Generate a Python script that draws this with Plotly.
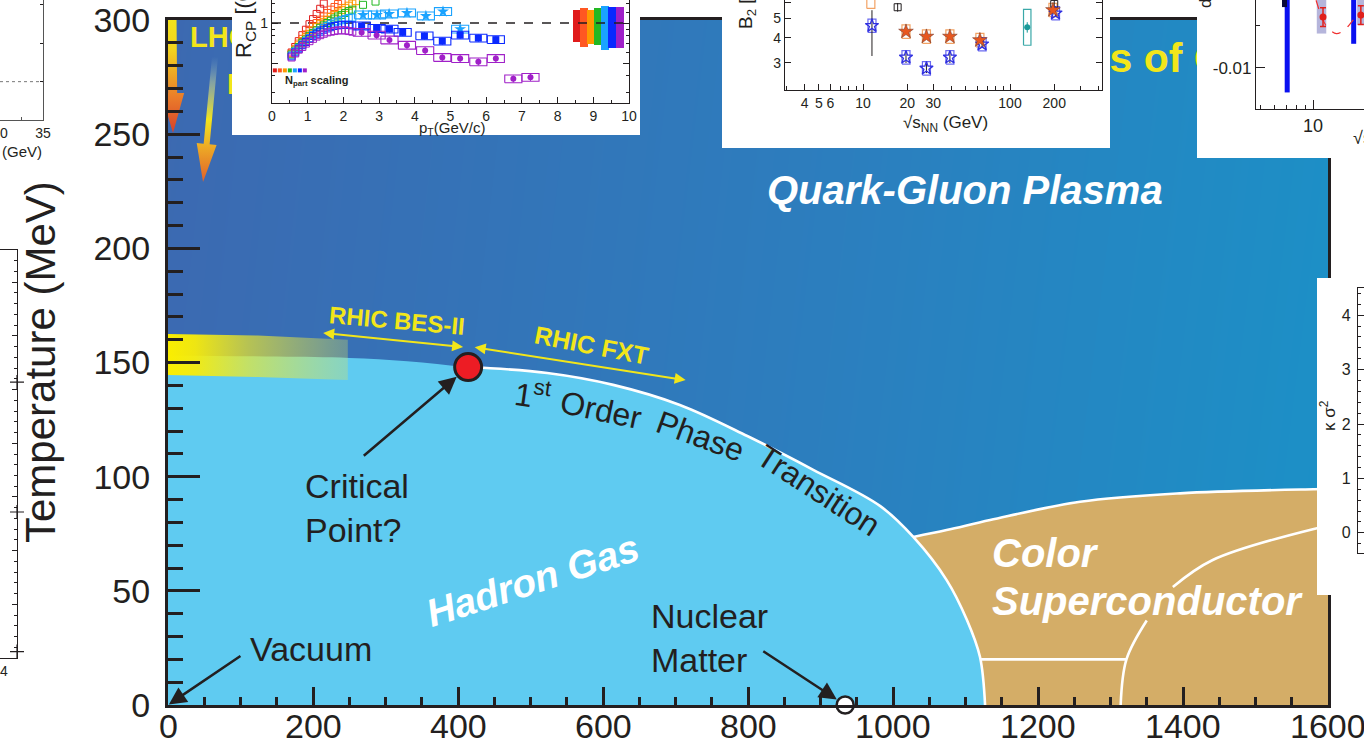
import math
import plotly.graph_objects as go

W, H = 1364, 750
INK = '#231f20'
FONT = 'Liberation Sans, Arial, Helvetica, sans-serif'
YELLOW = '#f2e61a'


def fx(px):
    return px / W


def fy(py):
    return 1 - py / H


# ---------------- QCD phase diagram ----------------
MU_RANGE = [0, 1600]
T_RANGE = [0, 300]
MU_TICKS = [0, 200, 400, 600, 800, 1000, 1200, 1400, 1600]
QGP_Z = [[0.06, 1.0], [0.0, 0.93]]
QGP_SCALE = [[0, '#3c69b1'], [0.55, '#2c7ebe'], [1, '#1b91c7']]

CROSSOVER_MU = [0, 150, 250, 330, 414]
CROSSOVER_T = [153, 152.6, 152, 150.6, 148]
FIRST_ORDER_MU = [414, 523, 614, 706, 799, 890, 982, 1028, 1074, 1102, 1120, 1127]
FIRST_ORDER_T = [148, 145.4, 140.2, 131.4, 117.8, 103, 87.2, 73.6, 54.7, 37.2, 21, 0]
CSC_MU = [1028, 1074, 1134, 1258, 1396, 1580, 1600]
CSC_T = [73.6, 76.6, 81, 89, 92.7, 94.5, 94.6]
CSC_STEP_MU = [1121, 1322]
CSC_STEP_T = [20, 20]
CSC_ARC_LOW_MU = [1314, 1322, 1350]
CSC_ARC_LOW_T = [0, 20, 37]
CSC_ARC_HIGH_MU = [1386, 1441, 1579, 1600]
CSC_ARC_HIGH_T = [51.7, 63.5, 77, 78.3]

CRITICAL_POINT = (414, 148)
NUCLEAR_MATTER = (934, 0)

BAND_MU = [0, 124, 248]
BAND_TOP = [162.5, 161.8, 160]
BAND_BOT = [144.5, 143.6, 142.3]

# beam trajectories (tail, tip) in (muB, T)
LHC_ARROW = ((5.5, 303), (6.9, 250.5))
RHIC_ARROW = ((64.8, 283.8), (48.3, 229.1))

# annotation arrows (tail -> tip)
CRIT_TAIL = (268, 108.6)
VAC_TAIL = (102, 21.9)
NUC_TAIL = (819, 24)
BES_SPAN = ((212, 163), (407, 156.8))
FXT_SPAN = ((421, 156.8), (714, 142.3))

# screen scale of the main axes (px per unit), used for isotropic arrow widths
SX = (1328 - 168) / 1600
SY = (705 - 20) / 300


def arrow_outline(tail, tip, shaft_w, head_w, head_len):
    x0, y0 = tail[0] * SX, tail[1] * SY
    x1, y1 = tip[0] * SX, tip[1] * SY
    dx, dy = x1 - x0, y1 - y0
    L = math.hypot(dx, dy)
    ux, uy = dx / L, dy / L
    nx, ny = -uy, ux
    bx, by = x1 - ux * head_len, y1 - uy * head_len
    s, h = shaft_w / 2, head_w / 2
    pts = [(x0 + nx * s, y0 + ny * s), (bx + nx * s, by + ny * s),
           (bx + nx * h, by + ny * h), (x1, y1),
           (bx - nx * h, by - ny * h), (bx - nx * s, by - ny * s),
           (x0 - nx * s, y0 - ny * s), (x0 + nx * s, y0 + ny * s)]
    return [p[0] / SX for p in pts], [p[1] / SY for p in pts]


fig = go.Figure()
NOHOVER = dict(hoverinfo='skip', showlegend=False)

fig.add_trace(go.Heatmap(x=MU_RANGE, y=T_RANGE, z=QGP_Z, colorscale=QGP_SCALE,
                         zsmooth='best', showscale=False, hoverinfo='skip'))

# colour superconductor
tan_x = [1000] + CSC_MU + [1800, 1800, 1000]
tan_y = [CSC_T[0]] + CSC_T + [CSC_T[-1], -100, -100]
fig.add_trace(go.Scatter(x=tan_x, y=tan_y, fill='toself', fillcolor='#d4ad67',
                         mode='lines', line=dict(width=0, shape='spline'), **NOHOVER))

# hadron gas
had_x = [-200] + CROSSOVER_MU + FIRST_ORDER_MU[1:] + [FIRST_ORDER_MU[-1], -200]
had_y = [CROSSOVER_T[0]] + CROSSOVER_T + FIRST_ORDER_T[1:] + [-100, -100]
fig.add_trace(go.Scatter(x=had_x, y=had_y, fill='toself', fillcolor='#5fcbf1',
                         mode='lines', line=dict(width=0, shape='spline'), **NOHOVER))

# white phase boundaries
for xs, ys in [(FIRST_ORDER_MU, FIRST_ORDER_T), (CSC_MU, CSC_T), (CSC_STEP_MU, CSC_STEP_T),
               (CSC_ARC_LOW_MU, CSC_ARC_LOW_T), (CSC_ARC_HIGH_MU, CSC_ARC_HIGH_T)]:
    fig.add_trace(go.Scatter(x=xs, y=ys, mode='lines',
                             line=dict(color='white', width=2.6, shape='spline'), **NOHOVER))

# lattice crossover band
fig.add_trace(go.Scatter(x=BAND_MU + BAND_MU[::-1] + [BAND_MU[0]],
                         y=BAND_TOP + BAND_BOT[::-1] + [BAND_TOP[0]],
                         fill='toself', mode='lines', line=dict(width=0),
                         fillgradient=dict(type='horizontal', colorscale=[
                             [0, 'rgba(250,238,0,1)'], [0.15, 'rgba(248,236,10,0.95)'],
                             [0.45, 'rgba(240,234,40,0.68)'], [1, 'rgba(225,232,90,0.3)']]),
                         **NOHOVER))

# LHC / RHIC collider trajectories
ax_, ay_ = arrow_outline(*LHC_ARROW, shaft_w=9, head_w=23, head_len=40)
fig.add_trace(go.Scatter(x=ax_, y=ay_, fill='toself', mode='lines', line=dict(width=0),
                         fillgradient=dict(type='vertical', colorscale=[
                             [0, '#d8402a'], [0.3, '#ea7d2a'], [0.7, '#f2d41e'], [1, '#f4e61b']]),
                         cliponaxis=False, **NOHOVER))
bx_, by_ = arrow_outline(*RHIC_ARROW, shaft_w=6, head_w=20, head_len=38)
fig.add_trace(go.Scatter(x=bx_, y=by_, fill='toself', mode='lines', line=dict(width=0),
                         fillgradient=dict(type='vertical', colorscale=[
                             [0, '#e0602a'], [0.3, '#eeb025'], [0.5, '#f2e41c'],
                             [0.8, 'rgba(200,215,150,0.5)'], [1, 'rgba(150,190,210,0.0)']]),
                         **NOHOVER))

# yellow headings that sit partly behind the data panels
for txt, mu, T, size in [('<b>LHC</b>', 30.3, 291.2, 29), ('<b>RHIC</b>', 81.4, 270.7, 29),
                         ('<b>Phases of QCD</b>', 1132, 281.6, 41)]:
    fig.add_trace(go.Scatter(x=[mu], y=[T], mode='text', text=[txt], textposition='middle right',
                             textfont=dict(size=size, color=YELLOW, family=FONT), **NOHOVER))

# critical point and nuclear matter
fig.add_trace(go.Scatter(x=[CRITICAL_POINT[0]], y=[CRITICAL_POINT[1]], mode='markers',
                         marker=dict(size=27, color='#ed1c24', line=dict(color=INK, width=3)),
                         cliponaxis=False, **NOHOVER))
fig.add_trace(go.Scatter(x=[NUCLEAR_MATTER[0]], y=[NUCLEAR_MATTER[1]], mode='markers',
                         marker=dict(size=17, color='white', line=dict(color=INK, width=2.5)),
                         cliponaxis=False, **NOHOVER))

# ---------------- panel A: R_CP vs pT ----------------
RCP_COLORS = ['#e01b1b', '#ff5722', '#ff9900', '#22b822', '#1aa3ff', '#0a28ff', '#a020c8']
RCP_LOW_PT = [
    [0.55, 0.65, 0.75, 0.85, 0.95, 1.05, 1.15, 1.25, 1.35, 1.45],
    [0.55, 0.65, 0.75, 0.85, 0.95, 1.05, 1.15, 1.25, 1.35, 1.45, 1.55, 1.65, 1.75, 1.85, 1.95],
    [0.55, 0.65, 0.75, 0.85, 0.95, 1.05, 1.15, 1.25, 1.35, 1.45, 1.55, 1.65, 1.75, 1.85, 1.95,
     2.05, 2.15, 2.25, 2.35],
    [0.55, 0.65, 0.75, 0.85, 0.95, 1.05, 1.15, 1.25, 1.35, 1.45, 1.55, 1.65, 1.75, 1.85, 1.95,
     2.05, 2.15, 2.25, 2.55, 2.9],
    [0.55, 0.65, 0.75, 0.85, 0.95, 1.05, 1.15, 1.25, 1.35, 1.45, 1.55, 1.65, 1.75, 1.85, 1.95,
     2.05, 2.15, 2.25],
    [0.55, 0.65, 0.75, 0.85, 0.95, 1.05, 1.15, 1.25, 1.35, 1.45, 1.55, 1.65, 1.75, 1.85, 1.95,
     2.05, 2.15, 2.25],
    [0.55, 0.65, 0.75, 0.85, 0.95, 1.05, 1.15, 1.25, 1.35, 1.45, 1.55, 1.65, 1.75, 1.85, 1.95,
     2.05, 2.15, 2.25],
]
RCP_LOW_VAL = [
    [0.60, 0.66, 0.73, 0.81, 0.89, 0.98, 1.07, 1.17, 1.28, 1.40],
    [0.59, 0.64, 0.70, 0.76, 0.82, 0.88, 0.94, 1.00, 1.06, 1.12, 1.19, 1.26, 1.32, 1.39, 1.46],
    [0.58, 0.63, 0.68, 0.73, 0.78, 0.83, 0.88, 0.93, 0.98, 1.02, 1.06, 1.11, 1.15, 1.20, 1.25,
     1.30, 1.35, 1.40, 1.46],
    [0.58, 0.62, 0.66, 0.71, 0.75, 0.80, 0.84, 0.88, 0.92, 0.96, 1.00, 1.04, 1.08, 1.12, 1.15,
     1.19, 1.23, 1.26, 1.37, 1.45],
    [0.57, 0.61, 0.65, 0.69, 0.73, 0.77, 0.81, 0.85, 0.88, 0.92, 0.95, 0.98, 1.01, 1.03, 1.05,
     1.07, 1.09, 1.10],
    [0.56, 0.60, 0.64, 0.68, 0.72, 0.76, 0.80, 0.83, 0.86, 0.89, 0.91, 0.93, 0.95, 0.96, 0.97,
     0.97, 0.97, 0.96],
    [0.55, 0.59, 0.63, 0.66, 0.70, 0.73, 0.76, 0.79, 0.81, 0.83, 0.85, 0.86, 0.87, 0.88, 0.88,
     0.88, 0.87, 0.86],
]
RCP_HIGH = {
    4: ([2.55, 2.94, 3.28, 3.78, 4.31, 4.79, 5.27], [1.15, 1.15, 1.17, 1.19, 1.13, 1.22, 0.90], 'star', 9),
    5: ([2.51, 2.93, 3.29, 3.66, 4.27, 4.77, 5.27, 5.78, 6.27],
        [0.95, 0.91, 0.90, 0.85, 0.80, 0.73, 0.81, 0.77, 0.75], 'square', 7),
    6: ([2.51, 2.93, 3.29, 3.78, 4.29, 4.77, 5.27, 5.78, 6.27, 6.76, 7.24],
        [0.85, 0.81, 0.745, 0.68, 0.62, 0.55, 0.54, 0.51, 0.54, 0.38, 0.39], 'circle', 6),
}
NORM_X = [8.53, 8.74, 8.93, 9.13, 9.33, 9.53, 9.75]
NORM_LO = [0.72, 0.66, 0.70, 0.68, 0.63, 0.65, 0.65]
NORM_HI = [1.25, 1.29, 1.25, 1.29, 1.34, 1.33, 1.33]
NPART_PT = [0.08, 0.22, 0.36, 0.5, 0.64, 0.78, 0.92]
NPART_VAL = 0.44


def box_path(xs, ys, x_half, y_frac, log_x=False):
    bx, by = [], []
    for x, y in zip(xs, ys):
        xl, xr = (x / x_half, x * x_half) if log_x else (x - x_half, x + x_half)
        yl, yh = y / y_frac, y * y_frac
        bx += [xl, xr, xr, xl, xl, None]
        by += [yl, yl, yh, yh, yl, None]
    return bx, by


# white paper boxes that hold each data panel
PANEL_BOXES = {2: (232, 640, 0, 135), 4: (722, 1110, 0, 148), 6: (1197, 1364, 0, 158),
               8: (1317, 1364, 278, 595)}
for n in PANEL_BOXES:
    fig.add_trace(go.Scatter(x=[None], y=[None], xaxis=f'x{n}', yaxis=f'y{n}', **NOHOVER))

fig.add_trace(go.Bar(x=NORM_X, y=[h - l for h, l in zip(NORM_HI, NORM_LO)], base=NORM_LO,
                     width=0.21, marker=dict(color=RCP_COLORS, line=dict(width=0)),
                     xaxis='x3', yaxis='y3', **NOHOVER))
fig.add_trace(go.Scatter(x=[0, 10], y=[1, 1], mode='lines', xaxis='x3', yaxis='y3',
                         line=dict(color=INK, width=1.3, dash='dash'), **NOHOVER))
for i, c in enumerate(RCP_COLORS):
    fig.add_trace(go.Scatter(x=RCP_LOW_PT[i], y=RCP_LOW_VAL[i], mode='markers', xaxis='x3', yaxis='y3',
                             marker=dict(symbol='square-open', size=7, color=c, line=dict(width=1)),
                             **NOHOVER))
for i, (pts, vals, sym, sz) in RCP_HIGH.items():
    c = RCP_COLORS[i]
    bxs, bys = box_path(pts, vals, 0.24, 1.07)
    fig.add_trace(go.Scatter(x=bxs, y=bys, mode='lines', xaxis='x3', yaxis='y3',
                             line=dict(color=c, width=1.1), **NOHOVER))
    fig.add_trace(go.Scatter(x=pts, y=vals, mode='markers', xaxis='x3', yaxis='y3',
                             error_y=dict(type='percent', value=6, color=c, thickness=1, width=0),
                             marker=dict(symbol=sym, size=sz, color=c), **NOHOVER))
fig.add_trace(go.Scatter(x=NPART_PT, y=[NPART_VAL] * 7, mode='markers', xaxis='x3', yaxis='y3',
                         marker=dict(symbol='square', size=4, color=RCP_COLORS), **NOHOVER))

# ---------------- panel B: B2 vs sqrt(sNN) ----------------
B2_ORANGE_X = [19.6, 27, 39, 62.4, 196]
B2_ORANGE_Y = [4.29, 4.05, 4.05, 3.89, 5.5]
B2_BLUE_X = [11.5, 19.6, 27, 39, 64.6, 204]
B2_BLUE_Y = [4.59, 3.19, 2.81, 3.19, 3.71, 5.3]
B2_BLACK_X = [17.2, 200]
B2_BLACK_Y = [5.68, 5.9]
B2_OPEN_ORANGE_X = [11.3]
B2_OPEN_ORANGE_Y = [6.05]
B2_TEAL_X = [131]
B2_TEAL_Y = [4.51]

bxs, bys = box_path(B2_ORANGE_X + B2_OPEN_ORANGE_X, B2_ORANGE_Y + B2_OPEN_ORANGE_Y, 1.065, 1.08, log_x=True)
fig.add_trace(go.Scatter(x=bxs, y=bys, mode='lines', xaxis='x5', yaxis='y5',
                         line=dict(color='#f2a264', width=1.2), **NOHOVER))
bxs, bys = box_path(B2_BLUE_X, B2_BLUE_Y, 1.065, 1.08, log_x=True)
fig.add_trace(go.Scatter(x=bxs, y=bys, mode='lines', xaxis='x5', yaxis='y5',
                         line=dict(color='#6b6bf0', width=1.2), **NOHOVER))
bxs, bys = box_path(B2_TEAL_X, B2_TEAL_Y, 1.06, 1.23, log_x=True)
fig.add_trace(go.Scatter(x=bxs, y=bys, mode='lines', xaxis='x5', yaxis='y5',
                         line=dict(color='#3aa8a8', width=1.2), **NOHOVER))
fig.add_trace(go.Scatter(x=B2_BLACK_X, y=B2_BLACK_Y, mode='markers', xaxis='x5', yaxis='y5',
                         error_y=dict(type='percent', value=5, color=INK, thickness=1, width=0),
                         marker=dict(symbol='square-open', size=7, color=INK, line=dict(width=1)),
                         **NOHOVER))
fig.add_trace(go.Scatter(x=B2_TEAL_X, y=B2_TEAL_Y, mode='markers', xaxis='x5', yaxis='y5',
                         error_y=dict(type='percent', value=6, color='#1a9a9a', thickness=1, width=0),
                         marker=dict(symbol='circle', size=6, color='#1a9a9a'), **NOHOVER))
fig.add_trace(go.Scatter(x=B2_BLUE_X, y=B2_BLUE_Y, mode='markers', xaxis='x5', yaxis='y5',
                         error_y=dict(type='data', array=[0.9, 0.2, 0.15, 0.2, 0.15, 0.2],
                                      arrayminus=[1.35, 0.2, 0.15, 0.2, 0.15, 0.2],
                                      color=INK, thickness=1, width=0),
                         marker=dict(symbol='star-open', size=10, color='#3030e0', line=dict(width=1.3)),
                         **NOHOVER))
fig.add_trace(go.Scatter(x=B2_ORANGE_X, y=B2_ORANGE_Y, mode='markers', xaxis='x5', yaxis='y5',
                         marker=dict(symbol='star', size=11, color='#e8571e',
                                     line=dict(color='#7a3a2a', width=0.6)), **NOHOVER))

# ---------------- panel C: dv1/dy vs sqrt(sNN) ----------------
C_BAR_X = [7.1, 17.1]
C_BAR_LOW = [-0.0129, -0.0072]
C_CAP_X = [6.85]
C_CAP_LOW = [-0.0029]
C_BOX_XLO = [10.5, 17.9]
C_BOX_XHI = [11.9, 19.9]
C_BOX_YLO = [-0.0060, -0.0050]
C_PT_X = [11.4, 18.8]
C_PT_Y = [-0.00407, -0.00383]
C_MODEL_X = [10.4, 11.0, 11.8, 12.7, 13.6, 14.6, 15.8, 17.0, 18.3]
C_MODEL_Y = [-0.0021, -0.0036, -0.0050, -0.0057, -0.0060, -0.0058, -0.0052, -0.0044, -0.0037]
C_TOP = -0.0015

for xl, xr, yl in zip(C_BOX_XLO, C_BOX_XHI, C_BOX_YLO):
    fig.add_trace(go.Scatter(x=[xl, xr, xr, xl, xl], y=[yl, yl, C_TOP, C_TOP, yl], fill='toself',
                             fillcolor='rgba(120,120,190,0.55)', mode='lines', line=dict(width=0),
                             xaxis='x7', yaxis='y7', **NOHOVER))
for x, yl in zip(C_BAR_X, C_BAR_LOW):
    fig.add_trace(go.Scatter(x=[x, x], y=[yl, C_TOP], mode='lines', xaxis='x7', yaxis='y7',
                             line=dict(color='#0a10f0', width=5), **NOHOVER))
for x, yl in zip(C_CAP_X, C_CAP_LOW):
    fig.add_trace(go.Scatter(x=[x, x], y=[yl, C_TOP], mode='lines', xaxis='x7', yaxis='y7',
                             line=dict(color='#0a0a3a', width=5), **NOHOVER))
fig.add_trace(go.Scatter(x=C_MODEL_X, y=C_MODEL_Y, mode='lines', xaxis='x7', yaxis='y7',
                         line=dict(color='#f03030', width=1.2, dash='dash', shape='spline'), **NOHOVER))
fig.add_trace(go.Scatter(x=C_PT_X, y=C_PT_Y, mode='markers', xaxis='x7', yaxis='y7',
                         error_y=dict(type='constant', value=0.0011, color='#e0201c', thickness=1.5, width=3),
                         marker=dict(symbol='circle', size=7, color='#e0201c'), **NOHOVER))

# ---------------- panel E / F: edges of neighbouring plots ----------------
E_REF_X = [30, 35]
E_REF_Y = [1, 1]
F_MARK_X = [4.325, 4.325, 4.325]
F_MARK_Y = [25.7, 13.6, 0.6]
fig.add_trace(go.Scatter(x=E_REF_X, y=E_REF_Y, mode='lines', xaxis='x10', yaxis='y10',
                         line=dict(color='#777', width=1, dash='dot'), **NOHOVER))
fig.add_trace(go.Scatter(x=F_MARK_X, y=F_MARK_Y, mode='markers', xaxis='x11', yaxis='y11',
                         marker=dict(symbol='cross-thin-open', size=10, color=INK,
                                     line=dict(color=INK, width=1.2)),
                         cliponaxis=False, **NOHOVER))
fig.add_trace(go.Scatter(x=[None], y=[None], xaxis='x9', yaxis='y9', **NOHOVER))

# ---------------- axes ----------------
main_tick = dict(showgrid=False, zeroline=False, showline=True, linewidth=3, linecolor=INK,
                 mirror=True, ticks='inside', tickwidth=2.5, tickcolor=INK, automargin=False,
                 tickfont=dict(size=34, color=INK), ticklabeloverflow='allow')
hidden = dict(visible=False, range=[0, 1], fixedrange=True, automargin=False)


def small_axis(**kw):
    base = dict(showgrid=False, zeroline=False, showline=True, linewidth=1.2, linecolor=INK,
                ticks='inside', tickcolor=INK, tickwidth=1, ticklabeloverflow='allow',
                automargin=False, tickfont=dict(size=14, color=INK))
    base.update(kw)
    return base


layout_axes = dict(
    xaxis=dict(domain=[fx(168), fx(1328)], range=MU_RANGE, anchor='y', tickvals=MU_TICKS, ticklen=18,
               showticklabels=False,
               minor=dict(ticks='inside', dtick=50, ticklen=8, tickwidth=2.5, tickcolor=INK),
               **main_tick),
    yaxis=dict(domain=[fy(705), fy(20)], range=T_RANGE, anchor='x', dtick=50, tick0=0, ticklen=32,
               minor=dict(ticks='inside', dtick=10, ticklen=15, tickwidth=2.5, tickcolor=INK),
               ticklabelstandoff=8, **main_tick),
    xaxis3=small_axis(domain=[fx(272), fx(629)], anchor='y3', range=[0, 10], dtick=1, ticklen=6,
                      minor=dict(ticks='inside', dtick=0.5, ticklen=3, tickcolor=INK)),
    yaxis3=small_axis(domain=[fy(103), 1.0], anchor='x3', type='log',
                      range=[math.log10(0.25), math.log10(1.49)], tickvals=[0.5, 1], ticktext=['', '1'],
                      ticklen=6, mirror='ticks',
                      minor=dict(ticks='inside', tickvals=[0.3, 0.4, 0.6, 0.7, 0.8, 0.9, 1.2, 1.4],
                                 ticklen=3, tickcolor=INK)),
    xaxis5=small_axis(domain=[fx(785), fx(1102)], anchor='y5', type='log', range=[0.469, 2.626],
                      tickvals=[4, 5, 6, 10, 20, 30, 100, 200],
                      ticktext=['4', '5', '6', '10', '20', '30', '100', '200'], ticklen=6,
                      minor=dict(ticks='inside', tickvals=[3, 7, 8, 9, 40, 50, 60, 70, 80, 90, 300, 400],
                                 ticklen=4, tickcolor=INK)),
    yaxis5=small_axis(domain=[fy(90), 1.0], anchor='x5', type='log', range=[0.3405, 0.7905],
                      tickvals=[3, 4, 5, 6], ticktext=['3', '4', '5', ''], ticklen=6, mirror='ticks'),
    xaxis7=small_axis(domain=[fx(1256), 1.0], anchor='y7', type='log',
                      range=[math.log10(4.7), math.log10(19.6)], tickvals=[10], ticktext=['10'], ticklen=9,
                      tickfont=dict(size=18, color=INK),
                      minor=dict(ticks='inside', tickvals=[5, 6, 7, 8, 9], ticklen=4, tickcolor=INK)),
    yaxis7=small_axis(domain=[fy(109), 1.0], anchor='x7', range=[-0.01484, -0.00207],
                      tickvals=[-0.01], ticktext=['-0.01'], ticklen=9, tickfont=dict(size=17, color=INK),
                      minor=dict(ticks='inside', tickvals=[-0.005], ticklen=4, tickcolor=INK)),
    xaxis9=small_axis(domain=[fx(1358), 1.0], anchor='y9', range=[0, 1], ticks='', showticklabels=False,
                      mirror=True),
    yaxis9=small_axis(domain=[fy(553), fy(288)], anchor='x9', range=[-0.37, 4.5], dtick=1, tick0=0,
                      ticklen=6, tickfont=dict(size=16, color=INK), ticklabelstandoff=3,
                      minor=dict(ticks='inside', dtick=0.2, ticklen=3, tickcolor=INK)),
    xaxis10=small_axis(domain=[0, fx(43)], anchor='y10', range=[30, 35], tickvals=[30, 35], ticklen=3,
                       linecolor='#555', linewidth=1,
                       minor=dict(ticks='inside', tickvals=[32.5], ticklen=3, tickcolor='#555')),
    yaxis10=small_axis(domain=[fy(120), 1.0], anchor='x10', range=[0, 3.13], side='right',
                       tickvals=[1, 2, 3], ticklen=3, showticklabels=False, linecolor='#555', linewidth=1),
    xaxis11=small_axis(domain=[0, fx(17)], anchor='y11', range=[3.9, 4.325], tickvals=[4], ticks='',
                       mirror=True),
    yaxis11=small_axis(domain=[fy(658), fy(250)], anchor='x11', range=[0, 38], side='right', dtick=5,
                       ticklen=5, showticklabels=False,
                       minor=dict(ticks='inside', dtick=1, ticklen=3, tickcolor=INK)),
)
for n, (l, r, t, b) in PANEL_BOXES.items():
    layout_axes[f'xaxis{n}'] = dict(domain=[fx(l), fx(r)], anchor=f'y{n}', **hidden)
    layout_axes[f'yaxis{n}'] = dict(domain=[fy(b), fy(t)], anchor=f'x{n}', **hidden)


# ---------------- text ----------------
def label(text, px, py, size, color=INK, angle=0, xanchor='center', yanchor='middle', align='center'):
    return dict(text=text, x=fx(px), y=fy(py), xref='paper', yref='paper', showarrow=False,
                textangle=angle, xanchor=xanchor, yanchor=yanchor, align=align,
                font=dict(size=size, color=color, family=FONT))


def pointer(tip, tail, color=INK, width=2.5, size=1.4, standoff=0, both=False):
    return dict(x=tip[0], y=tip[1], ax=tail[0], ay=tail[1], xref='x', yref='y', axref='x', ayref='y',
                text='', showarrow=True, arrowhead=2, arrowsize=size, arrowwidth=width,
                arrowcolor=color, standoff=standoff, startstandoff=0,
                arrowside='end+start' if both else 'end')


# muB tick labels sit tight under the axis line
mu_tick_labels = [dict(text=str(v), x=v, y=fy(726), xref='x', yref='paper', showarrow=False,
                       xanchor='center', yanchor='middle', font=dict(size=34, color=INK, family=FONT))
                  for v in MU_TICKS]

annotations = mu_tick_labels + [
    label('Temperature (MeV)', 40, 362, 42, angle=-90),
    label('<b><i>Quark-Gluon Plasma</i></b>', 965, 190, 40, color='white'),
    label('<b><i>Hadron Gas</i></b>', 532, 580, 39, color='white', angle=-18),
    label('<b><i>Color</i></b>', 990, 553, 40, color='white', xanchor='left'),
    label('<b><i>Superconductor</i></b>', 990, 601, 40, color='white', xanchor='left'),
    label('Critical<br>Point?', 303, 508, 34, xanchor='left', align='left'),
    label('Vacuum', 248, 649, 34, xanchor='left'),
    label('Nuclear<br>Matter', 649, 638, 34, xanchor='left', align='left'),
    label('<b>RHIC BES-II</b>', 397, 320, 24, color=YELLOW, angle=5),
    label('<b>RHIC FXT</b>', 591, 345, 25, color=YELLOW, angle=11),
    label('1<sup>st</sup>', 533, 394, 32, angle=8),
    label('Order', 601, 410, 32, angle=12),
    label('Phase', 700, 436, 32, angle=20),
    label('Transition', 818, 490, 32, angle=33),
    pointer(CRITICAL_POINT, CRIT_TAIL, standoff=15),
    pointer((0, 0), VAC_TAIL, standoff=1),
    pointer(NUCLEAR_MATTER, NUC_TAIL, standoff=10),
    pointer(BES_SPAN[1], BES_SPAN[0], color=YELLOW, width=2, size=1.1, both=True),
    pointer(FXT_SPAN[1], FXT_SPAN[0], color=YELLOW, width=2, size=1.1, both=True),
    # panel titles
    label('R<sub>CP</sub> [(0-5%)/(60-80%)]', 245, 60, 22, angle=-90, yanchor='bottom'),
    label('<b>N<sub>part</sub> scaling</b>', 283, 81, 11, xanchor='left'),
    label('p<sub>T</sub>(GeV/c)', 452, 129, 15),
    label('B<sub>2</sub> [10<sup>-3</sup> GeV<sup>2</sup>/c<sup>3</sup>]', 745, 31, 19, angle=-90,
          yanchor='bottom'),
    label('√s<sub>NN</sub> (GeV)', 945, 124, 17),
    label('dv<sub>1</sub>/dy', 1207, 10, 17, angle=-90, yanchor='bottom'),
    label('√s<sub>NN</sub> (GeV)', 1351, 140, 18, xanchor='left'),
    label('κ σ<sup>2</sup>', 1328, 416, 17, angle=-90),
    label('√s<sub>NN</sub> (GeV)', 44, 152, 15, xanchor='right'),
]

fig.update_layout(
    template='none',
    width=W, height=H, autosize=False, margin=dict(l=0, r=0, t=0, b=0, pad=0),
    paper_bgcolor='white', plot_bgcolor='white', showlegend=False,
    font=dict(family=FONT, color=INK), annotations=annotations, bargap=0,
    **layout_axes,
)

fig.write_html('out.html')
